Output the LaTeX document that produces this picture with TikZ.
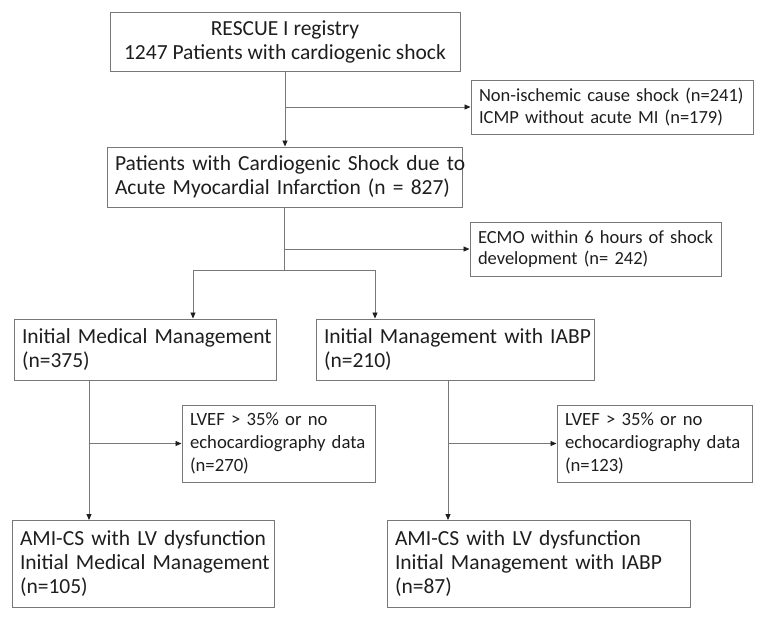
\documentclass[tikz,border=0pt]{standalone}
\usepackage{fontspec}
\setmainfont{Carlito}
\usetikzlibrary{arrows.meta}
\definecolor{linegray}{RGB}{120,120,120}
\definecolor{txt}{RGB}{30,30,30}
\tikzset{
  box/.style={draw=linegray, line width=1pt, text=txt, inner xsep=8pt, inner ysep=0pt, anchor=center},
  conn/.style={draw=linegray, line width=0.9pt},
  arr/.style={conn, -{Triangle[length=6pt,width=5pt,fill=txt,color=txt]}},
  bigf/.style={font=\fontsize{21.5}{24}\selectfont},
  midf/.style={font=\fontsize{18.7}{23}\selectfont},
  smlf/.style={font=\fontsize{18.5}{21.5}\selectfont},
}
\newcommand\one[1]{\mbox{#1}}
\begin{document}
\begin{tikzpicture}[x=1pt,y=-1pt]
\useasboundingbox (0,0) rectangle (766,622);
% boxes
\node[box,bigf,minimum width=350pt,minimum height=59pt,align=center] (b1) at (285,41.5)
  {RESCUE I registry\\1247 Patients with cardiogenic shock};
\node[box,smlf,minimum width=282pt,minimum height=54pt,text width=266pt,align=left] (ex1) at (612,107)
  {\one{Non-ischemic cause shock (n=241)}\\\one{ICMP without acute MI (n=179)}};
\node[box,bigf,minimum width=355pt,minimum height=60pt,text width=339pt,align=left] (b2) at (284.5,177)
  {\one{Patients with Cardiogenic Shock due to}\\\one{Acute Myocardial Infarction (n = 827)}};
\node[box,smlf,minimum width=251pt,minimum height=54pt,text width=235pt,align=left] (ex2) at (595.5,249)
  {\one{ECMO within 6 hours of shock}\\\one{development (n= 242)}};
\node[box,bigf,minimum width=262pt,minimum height=61pt,text width=246pt,align=left] (b3) at (145,349.5)
  {\one{Initial Medical Management}\\\one{(n=375)}};
\node[box,bigf,minimum width=278pt,minimum height=61pt,text width=262pt,align=left] (b4) at (455,349.5)
  {\one{Initial Management with IABP}\\\one{(n=210)}};
\node[box,midf,minimum width=193pt,minimum height=77pt,text width=177pt,align=left] (ex3) at (278.5,443.5)
  {\one{LVEF > 35\% or no}\\\one{echocardiography data}\\\one{(n=270)}};
\node[box,midf,minimum width=195pt,minimum height=77pt,text width=179pt,align=left] (ex4) at (654.5,443.5)
  {\one{LVEF > 35\% or no}\\\one{echocardiography data}\\\one{(n=123)}};
\node[box,bigf,minimum width=262pt,minimum height=87pt,text width=246pt,align=left] (b5) at (143,563.5)
  {\one{AMI-CS with LV dysfunction}\\\one{Initial Medical Management}\\\one{(n=105)}};
\node[box,bigf,minimum width=303pt,minimum height=87pt,text width=287pt,align=left] (b6) at (538.5,563.5)
  {\one{AMI-CS with LV dysfunction}\\\one{Initial Management with IABP}\\\one{(n=87)}};
% connector coordinates
\coordinate (j1) at (285,107);
\coordinate (j2) at (284.5,249);
\coordinate (s0) at (284.5,270);
\coordinate (sL) at (193,270);
\coordinate (sR) at (375,270);
\coordinate (t3) at (89,380);
\coordinate (j3) at (89,443.5);
\coordinate (t5) at (89,520);
\coordinate (t4) at (448,380);
\coordinate (j4) at (448,443.5);
\coordinate (t6) at (448,520);
% connectors
\draw[arr] (b1.south) -- (b1.south |- b2.north);
\draw[arr] (j1) -- (ex1.west);
\draw[conn] (b2.south) -- (s0);
\draw[arr] (j2) -- (ex2.west);
\draw[conn] (sL) -- (sR);
\draw[arr] (sL) -- (sL |- b3.north);
\draw[arr] (sR) -- (sR |- b4.north);
\draw[arr] (t3) -- (t5);
\draw[arr] (j3) -- (ex3.west);
\draw[arr] (t4) -- (t6);
\draw[arr] (j4) -- (ex4.west);
\end{tikzpicture}
\end{document}
